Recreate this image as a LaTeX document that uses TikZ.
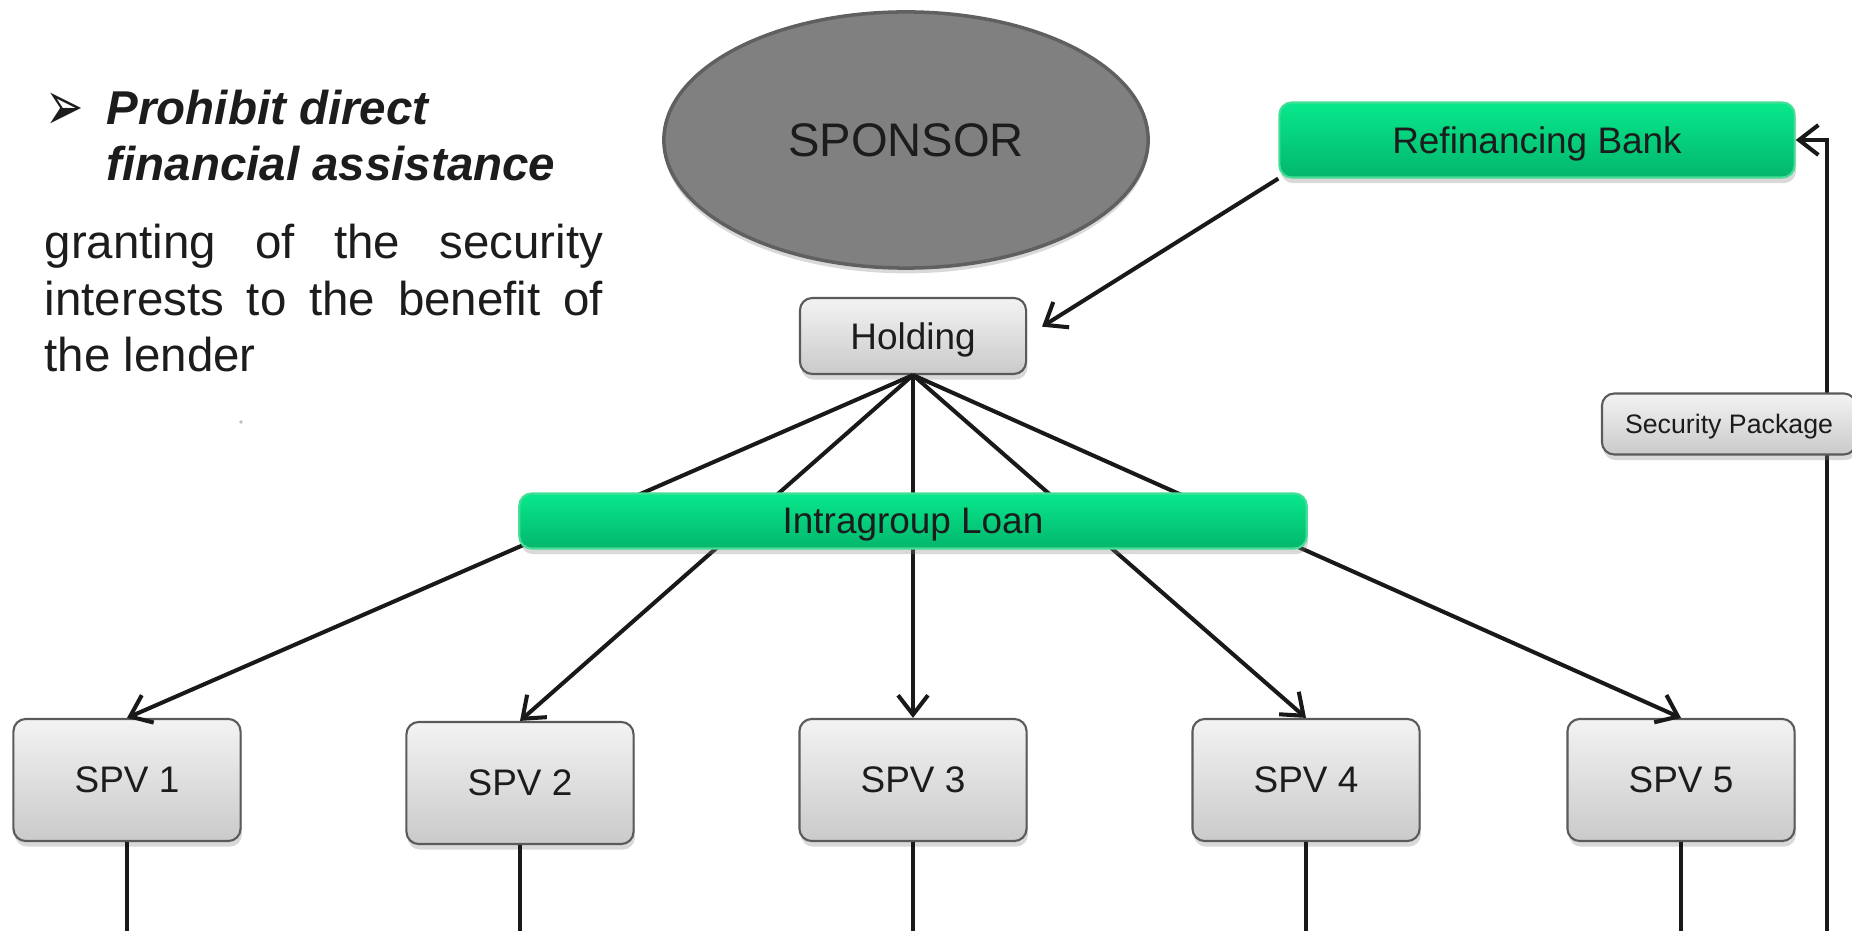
\documentclass[tikz,border=0pt]{standalone}
\usepackage{fontspec}
\setmainfont{Liberation Sans}
\newfontfamily\dingfont{DejaVu Sans}
\usetikzlibrary{arrows.meta,shadows,shapes.geometric}

\definecolor{boxtop}{RGB}{243,243,243}
\definecolor{boxbot}{RGB}{202,202,202}
\definecolor{boxline}{RGB}{90,90,90}
\definecolor{greentop}{RGB}{8,232,140}
\definecolor{greenbot}{RGB}{3,182,108}
\definecolor{greenline}{RGB}{70,222,150}
\definecolor{sponsorfill}{RGB}{128,128,128}
\definecolor{sponsorline}{RGB}{96,96,96}
\definecolor{txt}{RGB}{28,28,28}

\tikzset{
  entity/.style={rounded corners=3.5pt, draw=boxline, line width=0.6pt,
    top color=boxtop, bottom color=boxbot, text=txt, inner sep=0pt, text depth=0pt,
    drop shadow={opacity=0.3, shadow xshift=0.4pt, shadow yshift=-1.6pt},
    font=\fontsize{10.5}{12}\selectfont},
  spv/.style={entity, minimum width=2.27cm, minimum height=1.22cm},
  bank/.style={entity, draw=greenline, top color=greentop, bottom color=greenbot},
  flow/.style={-{Straight Barb[length=5.5pt,width=8.5pt]}, line width=1.15pt, black!90},
  link/.style={line width=1.15pt, black!90},
}

\begin{document}
\begin{tikzpicture}[x=0.01cm, y=-0.01cm]
  \useasboundingbox (0,0) rectangle (1852,931);

  % text on the left
  \node[anchor=base west, inner sep=0pt, text=txt, font=\dingfont\fontsize{10}{12}\selectfont] (bullet) at (45,131) {\scalebox{1.3}[2]{➢}};
  \node[anchor=base west, inner sep=0pt, align=left, text=txt,
    font=\bfseries\itshape\fontsize{13.5}{15.93}\selectfont] (title) at (106,181) {Prohibit direct\\financial assistance};
  \node[anchor=base west, inner sep=0pt, text width=5.58cm, align=justify, text=txt,
    font=\fontsize{13.5}{15.93}\selectfont] (body) at (44,259)
    {granting of the security\linebreak interests to the benefit of\linebreak the lender};
  \node[circle, fill=gray!50, inner sep=0.35pt] (dot) at (241,422) {};

  % sponsor
  \node[ellipse, draw=sponsorline, fill=sponsorfill, line width=1pt, text=txt,
    minimum width=4.84cm, minimum height=2.56cm,
    drop shadow={opacity=0.3, shadow xshift=0pt, shadow yshift=-1.5pt},
    font=\fontsize{13.4}{16}\selectfont] (sponsor) at (906,140) {SPONSOR};

  % bank and holding
  \node[bank, minimum width=5.15cm, minimum height=0.75cm] (refi) at (1537,140) {Refinancing Bank};
  \node[entity, minimum width=2.26cm, minimum height=0.76cm] (hold) at (913,336) {Holding};

  % spvs
  \foreach \i/\x/\y in {1/127/780, 2/520/783, 3/913/780, 4/1306/780, 5/1681/780} {
    \node[spv] (spv\i) at (\x,\y) {SPV \i};
    \coordinate (foot\i) at (\x,931);
    \draw[link] (spv\i.south) -- (foot\i);
    \draw[flow] (hold.south) -- (spv\i.north);
  }

  \node[bank, minimum width=7.87cm, minimum height=0.55cm] (loan) at (913,521) {Intragroup Loan};

  \draw[flow, shorten >=5pt] (refi.south west) -- (hold.east);

  % security back to the bank
  \coordinate (secfoot) at (1827,931);
  \draw[flow] (secfoot) |- (refi.east);
  \node[entity, minimum width=2.54cm, minimum height=0.61cm,
    font=\fontsize{7.6}{9}\selectfont] (secpkg) at (1729,424) {Security Package};
\end{tikzpicture}
\end{document}
